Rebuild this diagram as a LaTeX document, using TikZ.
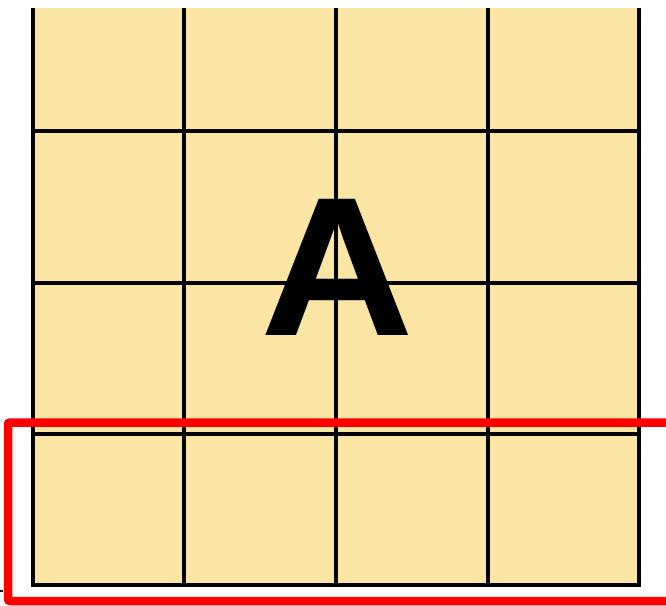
\documentclass[tikz,border=0pt]{standalone}
\usepackage{fontspec}
\setmainfont{Liberation Sans}
\definecolor{cellfill}{RGB}{251,229,164}
\definecolor{hlred}{RGB}{255,0,0}
\begin{document}
\begin{tikzpicture}[x=1pt,y=-1pt,
  gridline/.style={line width=4pt,black},
  hlbox/.style={line width=8.5pt,hlred,rounded corners=2pt},
  biglabel/.style={inner sep=0pt,font=\fontsize{198}{198}\selectfont\bfseries}]
\useasboundingbox (0,0) rectangle (666,605);
% cell background
\fill[cellfill] (33,8) rectangle (639,585);
% vertical lines
\foreach \x in {33,184,336,488,639}
  \draw[gridline] (\x,8) -- (\x,587);
% horizontal lines
\foreach \y in {131,283,434,585}
  \draw[gridline] (31,\y) -- (641,\y);
% label
\node[biglabel] (A) at (337.5,267) {\scalebox{1.075}[1]{A}};
% highlight box (extends beyond right edge)
\draw[hlbox] (690,422.5) -- (8,422.5) -- (8,601) -- (690,601);
% small mark at lower-left edge
\draw[line width=2pt,black] (0,591) -- (3,591);
\end{tikzpicture}
\end{document}
